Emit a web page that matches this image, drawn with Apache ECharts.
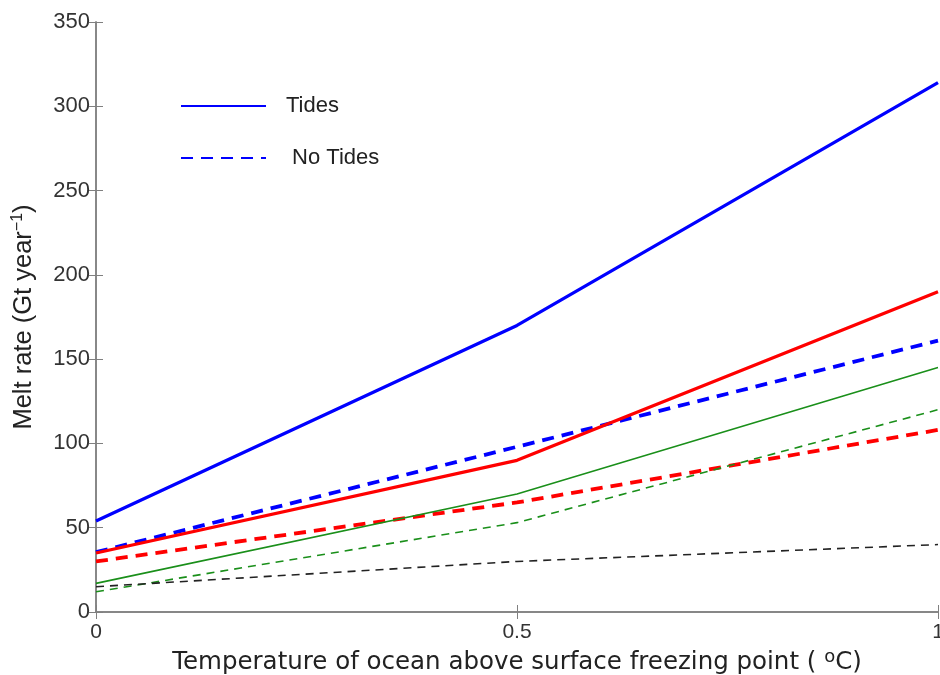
<!DOCTYPE html>
<html><head><meta charset="utf-8">
<script src="https://cdn.jsdelivr.net/npm/echarts@6/dist/echarts.min.js"></script>
<style>html,body{margin:0;padding:0;background:#fff}#c{width:940px;height:675px}</style>
</head><body><div id="c"></div>
<script>
var temps = [0, 0.5, 1];
var tidesBlue = [54, 170, 314];
var noTidesBlue = [35.5, 98, 161];
var tidesRed = [35, 90, 190];
var noTidesRed = [30, 65, 108];
var tidesGreen = [17, 70, 145];
var noTidesGreen = [12, 53, 120];
var noTidesBlack = [15, 30, 40];
var yTicks = [0, 50, 100, 150, 200, 250, 300, 350];
var xTicks = [0, 0.5, 1];

function pairs(v){ return temps.map(function(t,i){ return [t, v[i]]; }); }
function mk(name, data, color, width, dash){
  return {name:name, type:'line', data:pairs(data), symbol:'none', silent:true,
    lineStyle:{color:color, width:width, type:dash||'solid'}, itemStyle:{color:color}, z: 3};
}
var axisCol = '#808080';
var chart = echarts.init(document.getElementById('c'));
chart.setOption({
  animation:false,
  grid:{left:96, right:2, top:22, bottom:63, containLabel:false, outerBoundsMode:'none'},
  legend:{orient:'vertical', left:175, top:90, itemWidth:85, itemHeight:14, itemGap:30,
    data:['Tides','No Tides'],
    formatter:function(n){ return n === 'No Tides' ? ' No Tides' : n; },
    textStyle:{fontSize:22, color:'#222', fontFamily:'Liberation Sans, Arial', padding:[0,0,0,15]},
    itemStyle:{color:'rgba(0,0,0,0)', borderWidth:0, opacity:0},
    lineStyle:{width:2, opacity:1}, selectedMode:false},
  xAxis:[{type:'value', min:0, max:1, interval:0.5,
    name:'Temperature of ocean above surface freezing point ( {sup|o}C)', nameLocation:'middle', nameGap:36,
    nameTextStyle:{fontSize:24.5, color:'#222', fontFamily:'DejaVu Sans', rich:{sup:{fontSize:18, verticalAlign:'top', padding:[0,0,12,0], color:'#222', fontFamily:'DejaVu Sans'}}},
    axisLine:{lineStyle:{color:axisCol, width:1.5}}, axisTick:{inside:true, length:7, lineStyle:{color:axisCol}},
    axisLabel:{fontSize:21, color:'#333', margin:10, fontFamily:'Liberation Sans, Arial', showMaxLabel:true},
    splitLine:{show:false}},
   {type:'value', position:'top', min:0, max:1, interval:0.5, axisLine:{show:true, lineStyle:{color:axisCol, width:1.5}},
    axisTick:{inside:true, length:7, lineStyle:{color:axisCol}}, axisLabel:{show:false}, splitLine:{show:false}}],
  yAxis:[{type:'value', min:0, max:350, interval:50,
    name:'Melt rate (Gt year{sup|−1})', nameLocation:'middle', nameGap:58, nameRotate:90,
    nameTextStyle:{fontSize:25.5, color:'#222', fontFamily:'Liberation Sans, Arial', rich:{sup:{fontSize:16, verticalAlign:'top', padding:[0,0,12,0], color:'#222', fontFamily:'Liberation Sans, Arial'}}},
    axisLine:{show:true, lineStyle:{color:axisCol, width:1.5}}, axisTick:{inside:true, length:7, lineStyle:{color:axisCol}},
    axisLabel:{fontSize:22, color:'#333', margin:6, fontFamily:'Liberation Sans, Arial'},
    splitLine:{show:false}},
   {type:'value', position:'right', min:0, max:350, interval:50, axisLine:{show:true, lineStyle:{color:axisCol, width:1.5}},
    axisTick:{inside:true, length:7, lineStyle:{color:axisCol}}, axisLabel:{show:false}, splitLine:{show:false}}],
  series:[
    mk('Tides', tidesBlue, '#0000ff', 3.3),
    mk('No Tides', noTidesBlue, '#0000ff', 3.8, [12,8]),
    mk('r1', tidesRed, '#ff0000', 3.3),
    mk('r2', noTidesRed, '#ff0000', 3.8, [12,8]),
    mk('g1', tidesGreen, '#1a8f1a', 1.6),
    mk('g2', noTidesGreen, '#1a8f1a', 1.6, [8,6]),
    mk('k2', noTidesBlack, '#222', 1.6, [8,6])
  ]
});
</script></body></html>
